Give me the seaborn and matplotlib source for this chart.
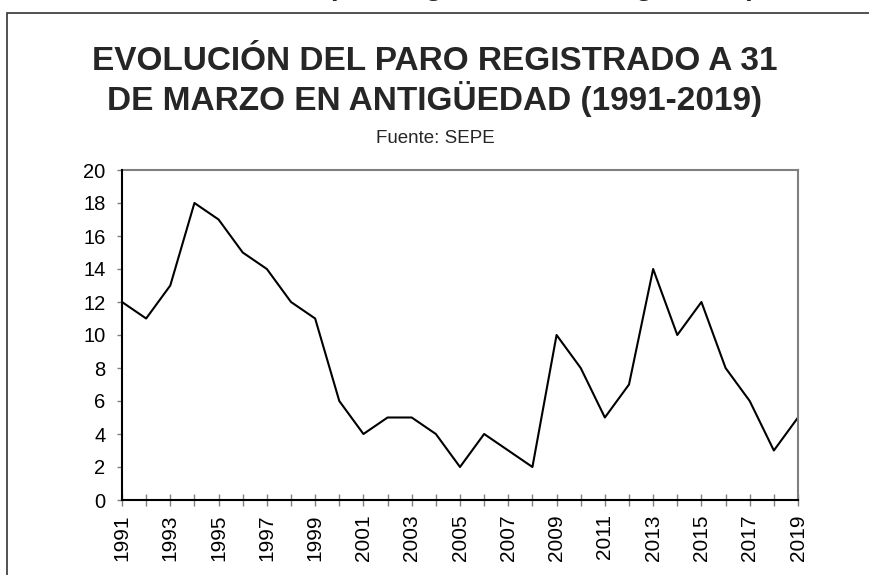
import matplotlib
matplotlib.use("Agg")
import matplotlib.pyplot as plt
import matplotlib.patches as mpatches
import seaborn as sns
import pandas as pd

# Paro registrado a 31 de marzo en Antigüedad (fuente: SEPE)
years = list(range(1991, 2020))
paro = [12, 11, 13, 18, 17, 15, 14, 12, 11, 6, 4, 5, 5, 4, 2,
        4, 3, 2, 10, 8, 5, 7, 14, 10, 12, 8, 6, 3, 5]
yticks = list(range(0, 21, 2))

df = pd.DataFrame({"year": years, "paro": paro})

sns.set_theme(style="white")
plt.rcParams["font.family"] = ["Liberation Sans", "DejaVu Sans"]

W, H = 870, 575
fig = plt.figure(figsize=(W / 100, H / 100), dpi=100)
ax = fig.add_axes([122 / W, 1 - 500 / H, 676 / W, 330 / H])

sns.lineplot(data=df, x="year", y="paro", color="black", linewidth=1.5, ax=ax)

ax.set_xlim(years[0], years[-1])
ax.set_ylim(0, 20)
ax.set_yticks(yticks)
ax.set_yticklabels([str(v) for v in yticks], fontsize=14.5)
ax.set_xticks(years)
ax.set_xticklabels([str(y) if (y - years[0]) % 2 == 0 else "" for y in years],
                   rotation=90, fontsize=15)
ax.set_xlabel("")
ax.set_ylabel("")

ax.tick_params(axis="y", direction="out", length=3.8, width=1, color="#808080",
               pad=8, left=True, labelcolor="black")
ax.tick_params(axis="x", direction="inout", length=8.5, width=1, color="#808080",
               pad=6, bottom=True, labelcolor="black")

for side in ["top", "right"]:
    ax.spines[side].set_color("#808080")
    ax.spines[side].set_linewidth(1.5)
for side in ["left", "bottom"]:
    ax.spines[side].set_color("black")
    ax.spines[side].set_linewidth(1.5)
    ax.spines[side].set_zorder(5)

# titles
fig.text(0.5, 1 - 70 / H, "EVOLUCIÓN DEL PARO REGISTRADO A 31", ha="center",
         va="baseline", fontsize=24, fontweight="bold")
fig.text(0.5, 1 - 110 / H, "DE MARZO EN ANTIGÜEDAD (1991-2019)", ha="center",
         va="baseline", fontsize=24, fontweight="bold")
fig.text(0.5, 1 - 143 / H, "Fuente: SEPE", ha="center", va="baseline", fontsize=13.5)

# header of the page, cut off at the top edge (only descenders show)
fig.text(145 / W, 1 + 5 / H, "Evolución del paro registrado en Antigüedad (1991-2019)",
         ha="left", va="baseline", fontsize=20, fontweight="bold", style="italic")

# outer frame, running off the right and bottom edges
frame = mpatches.Rectangle((7 / W, -0.05), 1.0, 1 - 13 / H + 0.05,
                           transform=fig.transFigure, fill=False,
                           edgecolor="#333333", linewidth=1.2, clip_on=False)
fig.patches.append(frame)

fig.savefig("out.png", dpi=100)
